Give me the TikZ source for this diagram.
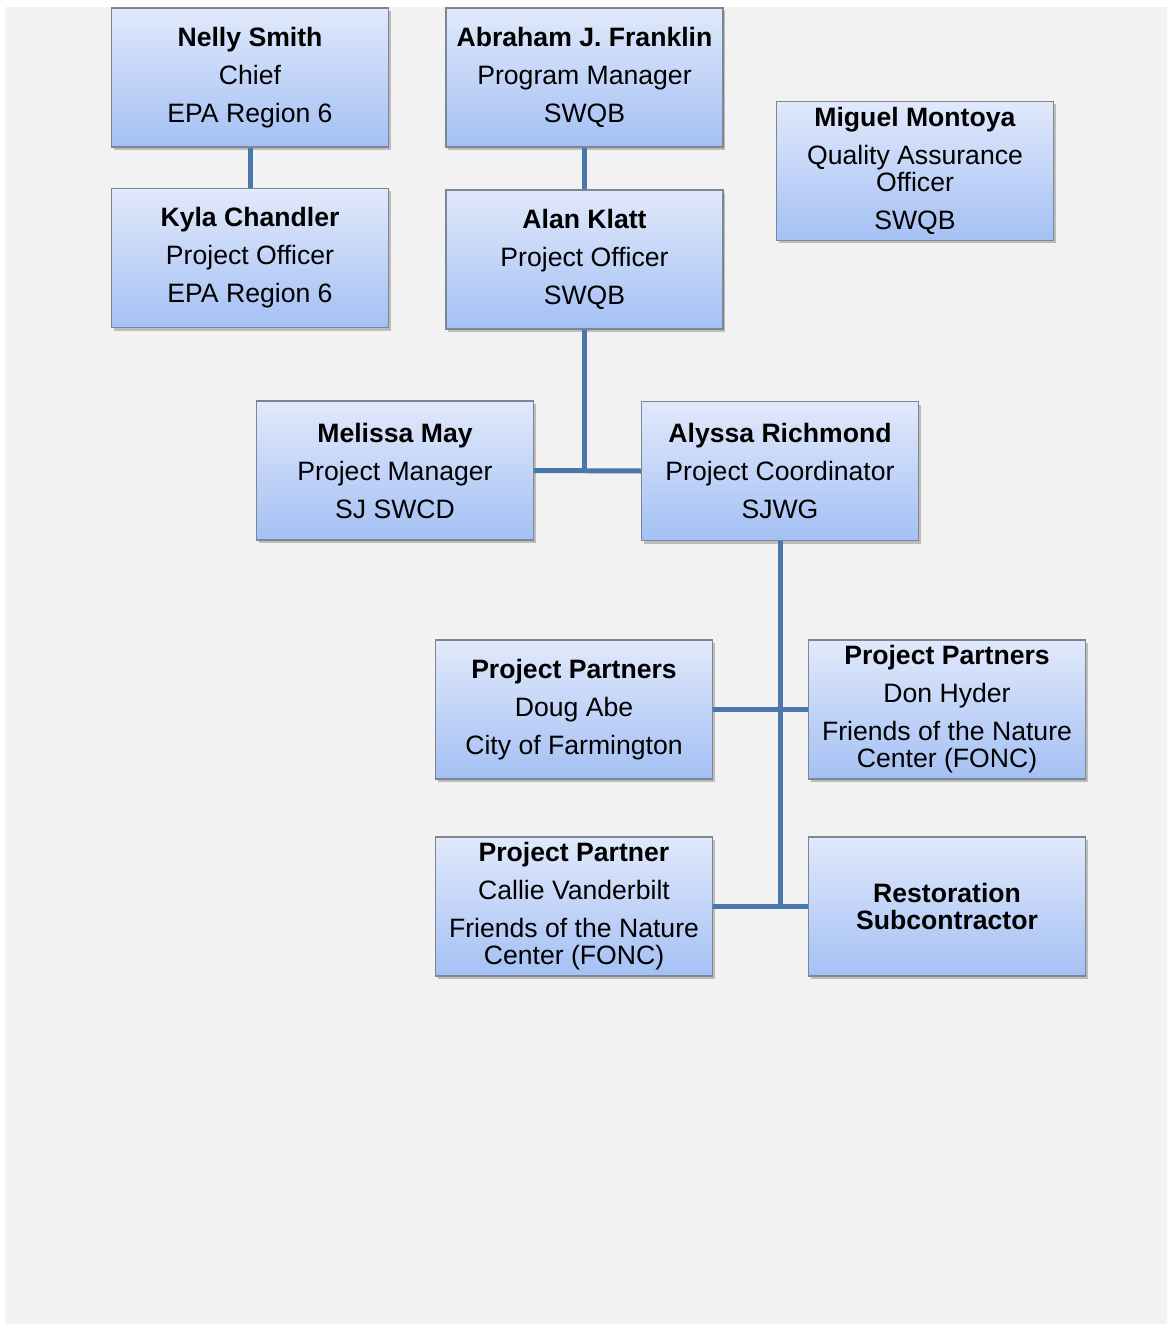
\documentclass[tikz,border=0pt]{standalone}
\usepackage{fontspec}
\setmainfont{Liberation Sans}
\usetikzlibrary{shadows}
\definecolor{bgc}{HTML}{F2F2F2}
\definecolor{topc}{HTML}{E1E9FB}
\definecolor{botc}{HTML}{A4C0F4}
\definecolor{edgec}{HTML}{7D8794}
\definecolor{linec}{HTML}{4A76AE}
\tikzset{
  x=1pt, y=-1pt,
  orgbox/.style={draw=edgec, line width=1.2pt, top color=topc, bottom color=botc,
    minimum width=277pt, minimum height=139pt, inner sep=0pt, align=center,
    font=\fontsize{26.6}{27}\selectfont,
    drop shadow={shadow xshift=2pt, shadow yshift=-3pt, fill=black, opacity=0.22}},
  conn/.style={draw=linec, line width=5pt}
}
\newcommand{\gap}{\\[11pt]}
\begin{document}
\begin{tikzpicture}
\useasboundingbox (0,0) rectangle (1167,1324);
\fill[bgc] (5,7) rectangle (1167,1324);

\node[orgbox] (nelly) at (250,77.5) {\textbf{Nelly Smith}\gap Chief\gap EPA Region 6};
\node[orgbox] (kyla) at (250,258) {\textbf{Kyla Chandler}\gap Project Officer\gap EPA Region 6};
\node[orgbox] (abraham) at (584.5,77.5) {\textbf{Abraham J. Franklin}\gap Program Manager\gap SWQB};
\node[orgbox] (alan) at (584.5,259.5) {\textbf{Alan Klatt}\gap Project Officer\gap SWQB};
\node[orgbox] (miguel) at (915,171) {\textbf{Miguel Montoya}\gap Quality Assurance\\Officer\gap SWQB};
\node[orgbox] (melissa) at (395,470.5) {\textbf{Melissa May}\gap Project Manager\gap SJ SWCD};
\node[orgbox] (alyssa) at (780,471) {\textbf{Alyssa Richmond}\gap Project Coordinator\gap SJWG};
\node[orgbox] (doug) at (574,709.5) {\textbf{Project Partners}\gap Doug Abe\gap City of Farmington};
\node[orgbox] (don) at (947,709.5) {\textbf{Project Partners}\gap Don Hyder\gap Friends of the Nature\\Center (FONC)};
\node[orgbox] (callie) at (574,906.5) {\textbf{Project Partner}\gap Callie Vanderbilt\gap Friends of the Nature\\Center (FONC)};
\node[orgbox] (resto) at (947,906.5) {\textbf{Restoration}\\\textbf{Subcontractor}};

\coordinate (j1) at (584.5,470);
\coordinate (j2) at (780,906);

\draw[conn] (nelly.south) -- (kyla.north);
\draw[conn] (abraham.south) -- (alan.north);
\draw[conn] (alan.south) -- (j1);
\draw[conn] (melissa.east) -- (alyssa.west);
\draw[conn] (alyssa.south) -- (j2);
\draw[conn] (doug.east) -- (don.west);
\draw[conn] (callie.east) -- (resto.west);
\end{tikzpicture}
\end{document}
